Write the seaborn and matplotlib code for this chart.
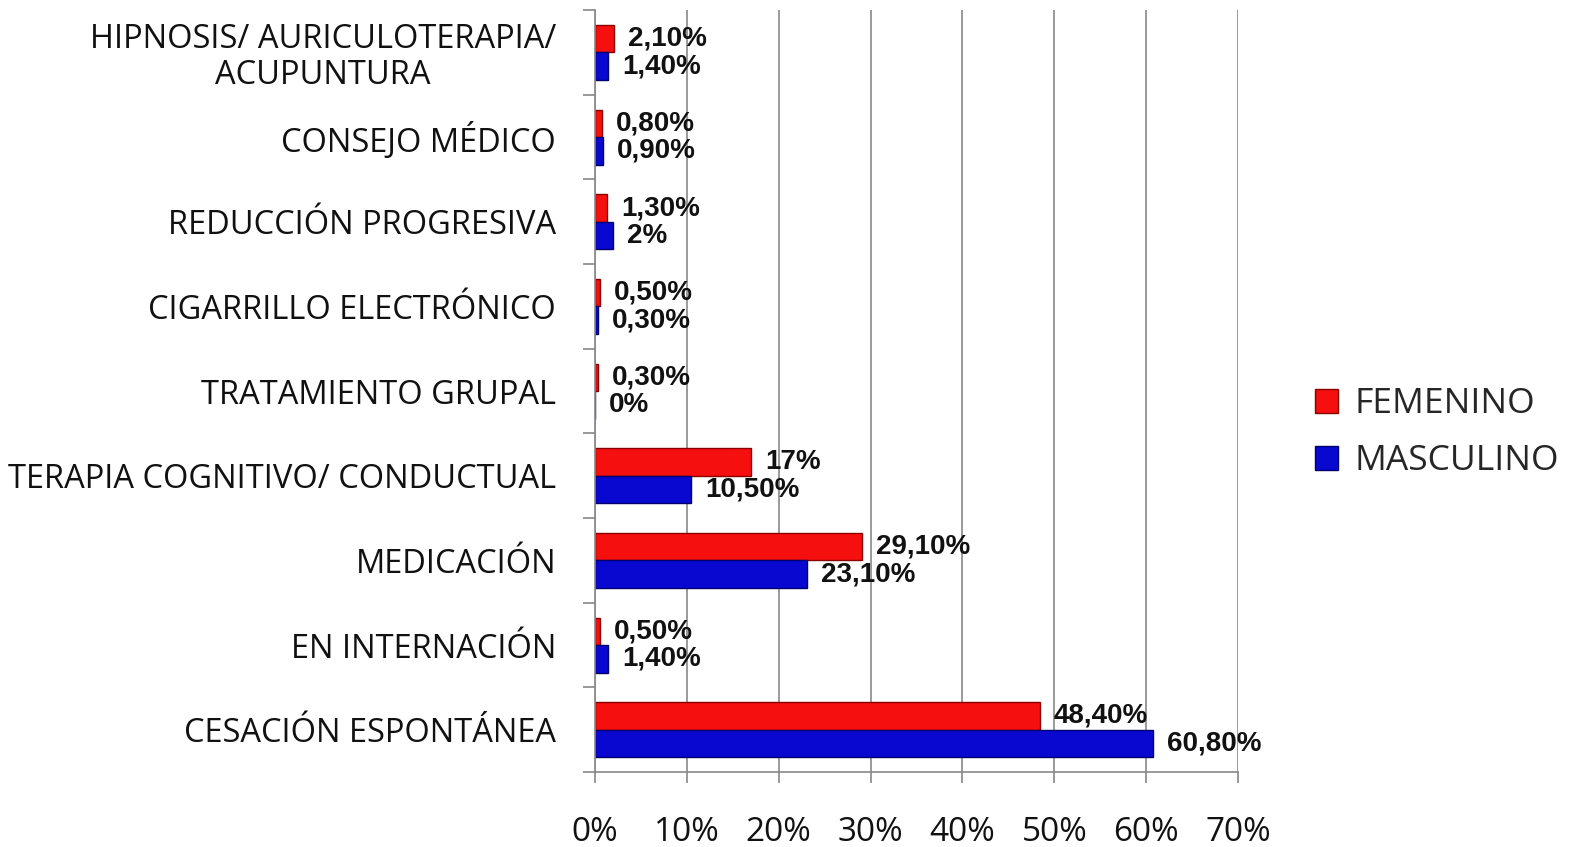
import pandas as pd
import seaborn as sns
import matplotlib
import matplotlib.pyplot as plt
from matplotlib.patches import Patch
from matplotlib.ticker import FixedLocator
matplotlib.use('Agg')

sns.set_theme(style="white")
plt.rcParams['font.family'] = ['Open Sans', 'DejaVu Sans']

# datos
categorias = ['HIPNOSIS/ AURICULOTERAPIA/\nACUPUNTURA', 'CONSEJO MÉDICO', 'REDUCCIÓN PROGRESIVA',
              'CIGARRILLO ELECTRÓNICO', 'TRATAMIENTO GRUPAL', 'TERAPIA COGNITIVO/ CONDUCTUAL',
              'MEDICACIÓN', 'EN INTERNACIÓN', 'CESACIÓN ESPONTÁNEA']
femenino = [2.1, 0.8, 1.3, 0.5, 0.3, 17, 29.1, 0.5, 48.4]
masculino = [1.4, 0.9, 2, 0.3, 0, 10.5, 23.1, 1.4, 60.8]
etiquetas_fem = ['2,10%', '0,80%', '1,30%', '0,50%', '0,30%', '17%', '29,10%', '0,50%', '48,40%']
etiquetas_masc = ['1,40%', '0,90%', '2%', '0,30%', '0%', '10,50%', '23,10%', '1,40%', '60,80%']
sexos = ['FEMENINO', 'MASCULINO']
ticks_x = [0, 10, 20, 30, 40, 50, 60, 70]

df = pd.DataFrame({
    'Categoria': categorias * 2,
    'Sexo': [sexos[0]] * len(categorias) + [sexos[1]] * len(categorias),
    'Valor': femenino + masculino,
})

colores = {'FEMENINO': '#f50f0f', 'MASCULINO': '#0808d0'}
bordes = ['#8a0000', '#000070']

fig = plt.figure(figsize=(15.7, 8.47), dpi=100)
ax = fig.add_axes([0.379, 0.0885, 0.4095, 0.8995])

sns.barplot(data=df, x='Valor', y='Categoria', hue='Sexo', hue_order=sexos,
            order=categorias, palette=colores, saturation=1, orient='h', width=0.65,
            legend=False, ax=ax)

for cont, borde in zip(ax.containers, bordes):
    for bar in cont:
        bar.set_edgecolor(borde)
        bar.set_linewidth(1.0)

ax.bar_label(ax.containers[0], labels=etiquetas_fem, padding=10,
             fontsize=20, fontweight='bold', family='Liberation Sans', color='#111111')
ax.bar_label(ax.containers[1], labels=etiquetas_masc, padding=10,
             fontsize=20, fontweight='bold', family='Liberation Sans', color='#111111')

ax.set_xlim(0, 70)
ax.set_ylim(8.5, -0.5)
ax.set_xticks(ticks_x)
ax.set_xticklabels([f'{t}%' for t in ticks_x], fontsize=24, color='#111111')
ax.set_xlabel('')
ax.set_ylabel('')

for lab in ax.get_yticklabels():
    lab.set_fontsize(23.5)
    lab.set_color('#111111')
    lab.set_multialignment('center')
    lab.set_linespacing(1.1)

ax.yaxis.set_minor_locator(FixedLocator([i - 0.5 for i in range(len(categorias) + 1)]))
ax.tick_params(axis='y', which='major', length=0, pad=28)
ax.tick_params(axis='y', which='minor', left=True, length=9, width=1.2, color='#888888', direction='out')
ax.tick_params(axis='x', which='major', bottom=True, length=8, width=1.2, color='#888888',
               direction='out', pad=24)

ax.grid(axis='x', color='#9a9a9a', linewidth=1.4)
ax.set_axisbelow(True)
for s in ['top', 'right']:
    ax.spines[s].set_visible(False)
for s in ['left', 'bottom']:
    ax.spines[s].set_color('#888888')
    ax.spines[s].set_linewidth(1.2)

handles = [Patch(facecolor=colores[s], edgecolor=b, label=s) for s, b in zip(sexos, bordes)]
fig.legend(handles=handles, loc='center left', bbox_to_anchor=(0.8265, 0.489), frameon=False,
           fontsize=25.5, handlelength=0.65, handleheight=0.65, handletextpad=0.45, labelspacing=0.65,
           borderpad=0)

fig.savefig('out.png', dpi=100)
